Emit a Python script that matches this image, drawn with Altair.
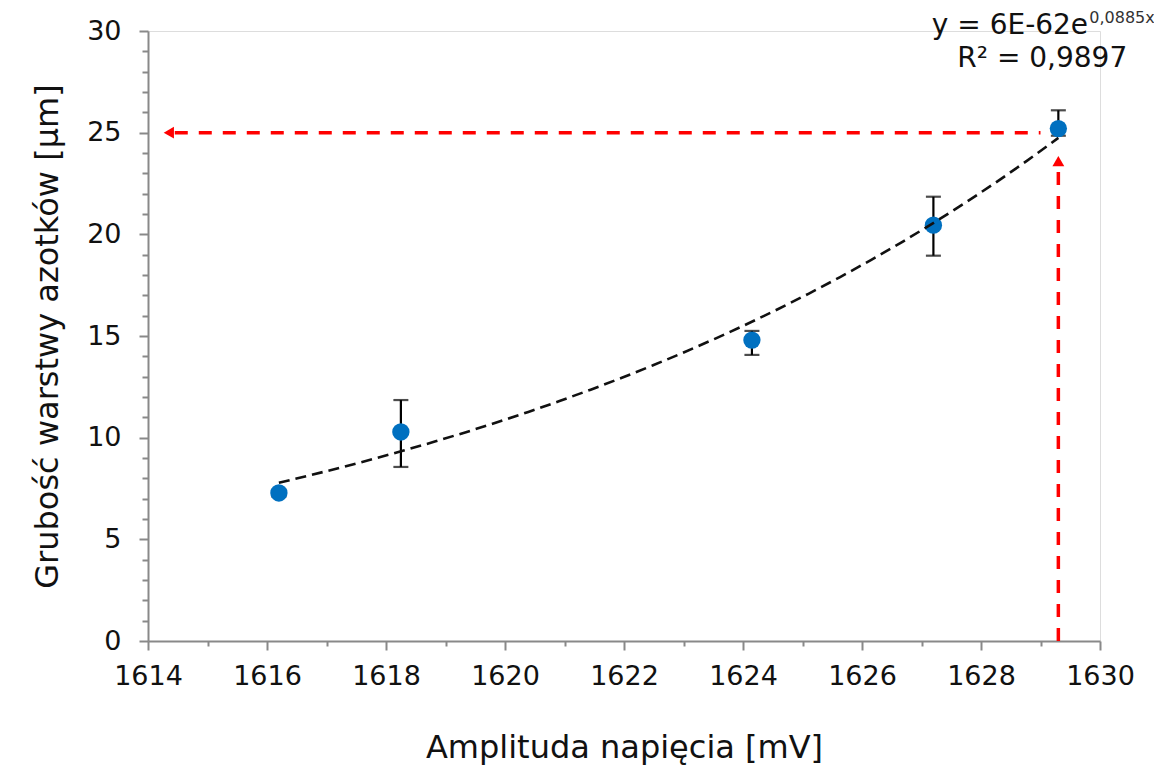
import altair as alt
import pandas as pd

# Data
amplitude = [1616.2, 1618.25, 1624.15, 1627.2, 1629.3]
thickness = [7.28, 10.28, 14.8, 20.45, 25.2]
err_low = [7.1, 8.56, 14.07, 18.95, 24.85]
err_high = [7.45, 11.85, 15.25, 21.85, 26.1]

# Annotation (red dashed arrows) in data units
h_arrow_x = [1614.45, 1629.0]
h_arrow_y = [25.0, 25.0]
v_arrow_x = [1629.3, 1629.3]
v_arrow_y = [0.0, 23.3]
head_x = [1614.35, 1629.3]
head_y = [25.0, 23.6]
head_shape = ["triangle-left", "triangle-up"]

FONT = "DejaVu Sans"
AXIS_COLOR = "#898989"
TXT = "#111111"

df = pd.DataFrame({"x": amplitude, "y": thickness, "lo": err_low, "hi": err_high})
df_h = pd.DataFrame({"x": h_arrow_x, "y": h_arrow_y})
df_v = pd.DataFrame({"x": v_arrow_x, "y": v_arrow_y})
df_head = pd.DataFrame({"x": head_x, "y": head_y, "s": head_shape})

xs = alt.Scale(domain=[1614, 1630], nice=False, zero=False)
ys = alt.Scale(domain=[0, 30], nice=False)

x_axis = alt.Axis(
    title="Amplituda napięcia [mV]",
    values=list(range(1614, 1631)),
    format="d",
    labelExpr="datum.value % 2 === 0 ? datum.label : ''",
    tickSize={"condition": {"test": "datum.value % 2 === 0", "value": 9}, "value": 5},
    grid=False, labelFlush=False, labelOverlap=False,
    labelFont=FONT, labelFontSize=27, labelColor=TXT, labelPadding=13,
    titleFont=FONT, titleFontSize=32, titleFontWeight="normal", titleColor=TXT,
    titlePadding=43,
    domainColor=AXIS_COLOR, domainWidth=2, tickColor=AXIS_COLOR, tickWidth=2,
)
y_axis = alt.Axis(
    title="Grubość warstwy azotków [µm]",
    values=list(range(0, 31)),
    labelExpr="datum.value % 5 === 0 ? datum.label : ''",
    tickSize={"condition": {"test": "datum.value % 5 === 0", "value": 9}, "value": 6},
    grid=False, labelFlush=False, labelOverlap=False,
    labelFont=FONT, labelFontSize=27, labelColor=TXT, labelPadding=18,
    titleFont=FONT, titleFontSize=32, titleFontWeight="normal", titleColor=TXT,
    titlePadding=22,
    domainColor=AXIS_COLOR, domainWidth=2, tickColor=AXIS_COLOR, tickWidth=2,
)


def X(field):
    return alt.X(field, type="quantitative", scale=xs, axis=x_axis)


def Y(field):
    return alt.Y(field, type="quantitative", scale=ys, axis=y_axis)


base = alt.Chart(df)

errbars = base.mark_rule(color="black", strokeWidth=2.2).encode(
    x=X("x"), y=Y("lo"), y2="hi:Q",
)
caps_hi = base.mark_tick(color="black", orient="horizontal", size=15, thickness=2.2).encode(
    x=X("x"), y=Y("hi")
)
caps_lo = base.mark_tick(color="black", orient="horizontal", size=15, thickness=2.2).encode(
    x=X("x"), y=Y("lo")
)
points = base.mark_circle(color="#0070C0", opacity=1, size=300).encode(
    x=X("x"), y=Y("y")
)
trend = base.transform_regression("x", "y", method="exp").mark_line(
    color="#111111", strokeWidth=2.6, strokeDash=[11, 6]
).encode(x=X("x"), y=Y("y"))

h_line = alt.Chart(df_h).mark_line(color="#FF0000", strokeWidth=3.5, strokeDash=[13, 11]).encode(
    x=X("x"), y=Y("y")
)
v_line = alt.Chart(df_v).mark_line(color="#FF0000", strokeWidth=3.5, strokeDash=[13, 11]).encode(
    x=X("x"), y=Y("y")
)
heads = alt.Chart(df_head).mark_point(filled=True, color="#FF0000", opacity=1, size=140).encode(
    x=X("x"), y=Y("y"),
    shape=alt.Shape("s:N", scale=None),
)

eq_df = pd.DataFrame({"x": [1629.80], "y": [29.85], "t": ["y = 6E-62e"]})
sup_df = pd.DataFrame({"x": [1629.82], "y": [30.38], "t": ["0,0885x"]})
r2_df = pd.DataFrame({"x": [1629.03], "y": [28.22], "t": ["R² = 0,9897"]})

eq = alt.Chart(eq_df).mark_text(font=FONT, fontSize=28, align="right", baseline="alphabetic", color=TXT).encode(
    x=X("x"), y=Y("y"), text="t:N"
)
sup = alt.Chart(sup_df).mark_text(font=FONT, fontSize=16, align="left", baseline="alphabetic", color="#333333").encode(
    x=X("x"), y=Y("y"), text="t:N"
)
r2 = alt.Chart(r2_df).mark_text(font=FONT, fontSize=28, align="center", baseline="alphabetic", color=TXT).encode(
    x=X("x"), y=Y("y"), text="t:N"
)

chart = alt.layer(
    errbars, caps_hi, caps_lo, points, trend, h_line, v_line, heads, eq, sup, r2
).properties(
    width=952,
    height=610,
    autosize=alt.AutoSizeParams(type="none"),
    padding={"left": 140, "top": 23, "right": 54, "bottom": 130},
).configure_view(stroke=None).configure_axis(labelOverlap=False).configure(background="white")

chart.save("out.html", embed_options={"renderer": "svg", "actions": False})
